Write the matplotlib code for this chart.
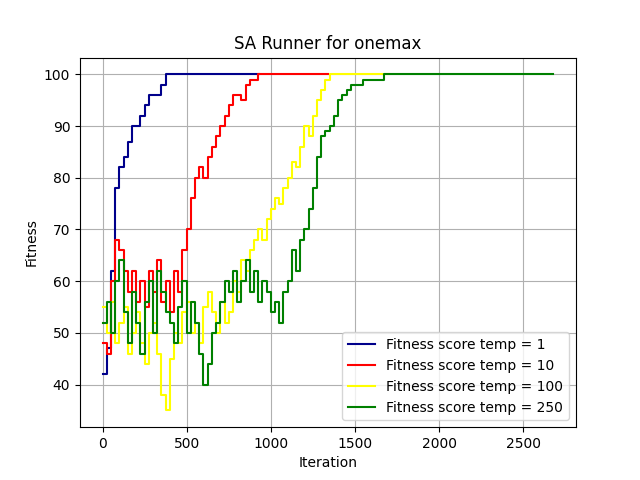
import numpy as np
import matplotlib.pyplot as plt

step = 25
t1 = [42, 47, 62, 78, 82, 84, 87, 90, 90, 92, 94, 96, 96, 96, 98, 100]
t10 = [48, 46, 60, 68, 66, 62, 58, 62, 56, 60, 55, 62, 58, 64, 56, 60, 54, 62, 58, 66,
       70, 76, 80, 82, 80, 84, 86, 88, 90, 92, 94, 96, 96, 95, 98, 99, 99, 100]
t100 = [55, 50, 56, 48, 52, 55, 46, 50, 54, 48, 44, 50, 52, 46, 38, 35, 45, 50, 48, 54,
        56, 50, 52, 48, 55, 58, 54, 50, 56, 52, 54, 60, 58, 64, 62, 66, 68, 70, 68, 72,
        74, 76, 75, 78, 80, 83, 82, 86, 90, 88, 92, 95, 97, 99, 100]
t250 = [52, 56, 50, 60, 64, 54, 48, 58, 52, 46, 56, 60, 50, 62, 58, 54, 52, 48, 55, 60,
        50, 56, 52, 46, 40, 44, 50, 52, 56, 60, 58, 62, 56, 60, 64, 58, 62, 56, 60, 58,
        54, 56, 52, 58, 60, 66, 62, 68, 70, 74, 78, 84, 88, 89, 90, 92, 95, 96, 97, 98,
        98, 98, 99, 99, 99, 99, 99, 100, 100]
ends = [930, 1340, 1700, 2680]
labels = ['Fitness score temp = 1', 'Fitness score temp = 10',
          'Fitness score temp = 100', 'Fitness score temp = 250']
colors = ['darkblue', 'red', 'yellow', 'green']

fig = plt.figure(figsize=(6.4, 4.8), dpi=100)
for vals, end, lab, c in zip([t1, t10, t100, t250], ends, labels, colors):
    x = list(np.arange(len(vals)) * step) + [end]
    y = vals + [vals[-1]]
    plt.plot(x, y, drawstyle='steps-post', color=c, label=lab)

plt.grid(True)
plt.legend(loc='lower right')
plt.title('SA Runner for onemax')
plt.xlabel('Iteration')
plt.ylabel('Fitness')
plt.savefig('out.png')
